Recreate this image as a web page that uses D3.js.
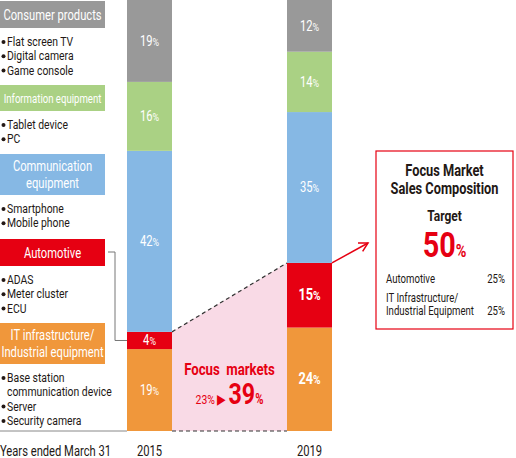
<!DOCTYPE html>
<html>
<head>
<meta charset="utf-8">
<script src="https://cdn.jsdelivr.net/npm/d3@7"></script>
<style>
  body { margin: 0; background: #fff; }
  svg { display: block; }
  text { font-family: Roboto, "Noto Sans", sans-serif; }
</style>
</head>
<body>
<div id="chart"></div>
<script>
// data (stacked bottom -> top)
const segments = ["IT infrastructure/Industrial equipment", "Automotive", "Communication equipment", "Information equipment", "Consumer products"];
const years = ["2015", "2019"];
const values2015 = [19, 4, 42, 16, 19];
const values2019 = [24, 15, 35, 14, 12];
const focusShare = [23, 39];
const targetShare = 50;
const targetItems = ["Automotive", "IT Infrastructure/Industrial Equipment"];
const targetValues = [25, 25];
const bulletItems = [
  ["Base station", " communication device", "Server", "Security camera"],
  ["ADAS", "Meter cluster", "ECU"],
  ["Smartphone", "Mobile phone"],
  ["Tablet device", "PC"],
  ["Flat screen TV", "Digital camera", "Game console"]
];
const colors = ["#f0973b", "#e60012", "#86b8e4", "#aad184", "#999999"];

// squeeze a text horizontally (no condensed font installed)
const squeeze = (t, k)=>{
  const x = +t.attr("x") || 0, y = +t.attr("y") || 0;
  t.attr("x", 0).attr("y", 0).attr("transform", `translate(${x},${y}) scale(${k},1)`);
}

const showChart = ()=>{
  const width = 516, height = 458;
  const svg = d3.select("#chart").append("svg")
      .attr("width", width).attr("height", height);

  const rows = years.map((yr, i)=>{
    const r = {year: yr};
    segments.forEach((s, j)=>{ r[s] = (i === 0 ? values2015 : values2019)[j]; });
    return r;
  });
  const stacked = d3.stack().keys(segments)(rows);

  const x = d3.scaleBand().domain(years).range([127, 332]).paddingInner(0.71875);
  const y = d3.scaleLinear().domain([0, 100]).range([431, 0]);
  const color = d3.scaleOrdinal().domain(segments).range(colors);
  const bw = x.bandwidth();

  // focus market pink area + dashed edges
  const autoTop = stacked[1];
  const xL = x("2015") + bw, xR = x("2019");
  const yL = y(autoTop[0][1]), yR = y(autoTop[1][1]);
  svg.append("path")
      .attr("d", `M${xL},${yL}L${xR},${yR}L${xR},${y(0)}L${xL},${y(0)}Z`)
      .attr("fill", "#f9dae6");
  svg.append("path")
      .attr("d", `M${xL},${yL}L${xR},${yR}M${xL},${y(0)}L${xR},${y(0)}`)
      .attr("fill", "none").attr("stroke", "#333").attr("stroke-width", 1.2)
      .attr("stroke-dasharray", "4,3");

  // baseline on the left
  svg.append("line").attr("x1", 0).attr("x2", x("2015")).attr("y1", y(0)).attr("y2", y(0))
      .attr("stroke", "#888").attr("stroke-width", 1);

  // bars
  const layer = svg.append("g").selectAll("g").data(stacked).join("g")
      .attr("fill", d=>color(d.key));
  layer.selectAll("rect").data(d=>d.map(v=>Object.assign(v, {key: d.key}))).join("rect")
      .attr("x", d=>x(d.data.year))
      .attr("y", d=>y(d[1]))
      .attr("width", bw)
      .attr("height", d=>y(d[0]) - y(d[1]));

  // value labels
  const isBold = d=>d.data.year === "2019" && (d.key === segments[0] || d.key === segments[1]);
  layer.selectAll("text").data(d=>d).join("text")
      .attr("x", d=>x(d.data.year) + bw / 2)
      .attr("y", d=>(y(d[0]) + y(d[1])) / 2 + 5)
      .attr("text-anchor", "middle")
      .attr("fill", "#fff")
      .attr("font-size", d=>isBold(d) ? 16 : 14)
      .attr("font-weight", d=>isBold(d) ? "bold" : "normal")
      .each(function(d){
        const t = d3.select(this);
        t.append("tspan").text(d[1] - d[0]);
        t.append("tspan").attr("font-size", "0.8em").text("%");
      });

  // left legend: boxes + bullets
  const legendBoxes = [
    {y: 323, h: 41, lines: ["IT infrastructure/", "Industrial equipment"]},
    {y: 239, h: 27, lines: ["Automotive"]},
    {y: 154, h: 41, lines: ["Communication", "equipment"]},
    {y: 85, h: 26, lines: ["Information equipment"]},
    {y: 1, h: 27, lines: ["Consumer products"]}
  ];
  const lg = svg.append("g");
  legendBoxes.forEach((b, i)=>{
    lg.append("rect").attr("x", 0).attr("y", b.y).attr("width", 105).attr("height", b.h)
        .attr("fill", colors[i]);
    const fs = i === 3 ? 12 : 14;
    b.lines.forEach((ln, k)=>{
      lg.append("text").attr("x", 52.5)
          .attr("y", b.y + b.h / 2 + 5 + (k - (b.lines.length - 1) / 2) * 17)
          .attr("text-anchor", "middle").attr("fill", "#fff").attr("font-size", fs)
          .text(ln);
    });
    bulletItems[i].forEach((it, k)=>{
      const yy = b.y + b.h + 18 + k * 14.3;
      if (!it.startsWith(" ")) {
        lg.append("circle").attr("cx", 3.5).attr("cy", yy - 4).attr("r", 2).attr("fill", "#231815");
      }
      lg.append("text").attr("x", 7).attr("y", yy)
          .attr("font-size", 13).attr("fill", "#231815").text(it.trim());
    });
  });

  // connector from Automotive legend to 2015 bar
  svg.append("path")
      .attr("d", `M108,252H115V${(y(autoTop[0][0]) + y(autoTop[0][1])) / 2}H${x("2015")}`)
      .attr("fill", "none").attr("stroke", "#777").attr("stroke-width", 1);

  // axis labels
  svg.append("text").attr("x", 0).attr("y", 456).attr("font-size", 14).attr("fill", "#231815")
      .text("Years ended March 31");
  svg.append("g").selectAll("text").data(years).join("text")
      .attr("x", d=>x(d) + bw / 2).attr("y", 456)
      .attr("text-anchor", "middle").attr("font-size", 14).attr("fill", "#231815")
      .text(d=>d);

  // focus markets annotation
  const fx = (xL + xR) / 2;
  svg.append("text").attr("x", fx).attr("y", 375).attr("text-anchor", "middle")
      .attr("font-size", 16.5).attr("font-weight", "bold").attr("fill", "#e60012")
      .attr("word-spacing", 4)
      .text("Focus markets");
  const ft = svg.append("text").attr("x", fx).attr("y", 404).attr("text-anchor", "middle")
      .attr("fill", "#e60012");
  ft.append("tspan").attr("font-size", 13).text(focusShare[0] + "%");
  ft.append("tspan").attr("font-size", 14).attr("dx", 3).text("\u25B6");
  ft.append("tspan").attr("font-size", 29).attr("font-weight", "bold").attr("dx", 3).text(focusShare[1]);
  ft.append("tspan").attr("font-size", 14).attr("font-weight", "bold").text("%");

  // arrow to target box
  const ax0 = x("2019") + bw, ay0 = yR, ax1 = 368, ay1 = 243;
  svg.append("line").attr("x1", ax0).attr("y1", ay0).attr("x2", ax1).attr("y2", ay1)
      .attr("stroke", "#e60012").attr("stroke-width", 1.5);
  const ang = Math.atan2(ay1 - ay0, ax1 - ax0);
  const ah = 10, spread = 0.5;
  svg.append("path")
      .attr("d", `M${ax1 - ah * Math.cos(ang - spread)},${ay1 - ah * Math.sin(ang - spread)}L${ax1},${ay1}L${ax1 - ah * Math.cos(ang + spread)},${ay1 - ah * Math.sin(ang + spread)}`)
      .attr("fill", "none").attr("stroke", "#e60012").attr("stroke-width", 1.5);

  // target box
  const bx = 376, by = 151, bwid = 137, bh = 178, cx = bx + bwid / 2;
  svg.append("rect").attr("x", bx).attr("y", by).attr("width", bwid).attr("height", bh)
      .attr("fill", "#fff").attr("stroke", "#e60012").attr("stroke-width", 1.2);
  ["Focus Market", "Sales Composition"].forEach((t, i)=>{
    svg.append("text").attr("x", cx).attr("y", 176 + i * 18).attr("text-anchor", "middle")
        .attr("font-size", 16).attr("font-weight", "bold").attr("fill", "#231815").text(t);
  });
  svg.append("text").attr("x", cx).attr("y", 221).attr("text-anchor", "middle")
      .attr("font-size", 15).attr("font-weight", "bold").attr("fill", "#231815").text("Target");
  const tt = svg.append("text").attr("x", cx).attr("y", 257).attr("text-anchor", "middle")
      .attr("fill", "#e60012").attr("font-weight", "bold");
  tt.append("tspan").attr("font-size", 36).text(targetShare);
  tt.append("tspan").attr("font-size", 18).text("%");

  const itemLines = [["Automotive"], ["IT Infrastructure/", "Industrial Equipment"]];
  const itemY = [283, 315];
  itemLines.forEach((lines, i)=>{
    lines.forEach((ln, k)=>{
      svg.append("text").attr("x", 386).attr("y", itemY[i] - (lines.length - 1 - k) * 13)
          .attr("font-size", 12).attr("fill", "#231815").text(ln);
    });
    svg.append("text").attr("x", 505).attr("y", itemY[i]).attr("text-anchor", "end")
        .attr("font-size", 12).attr("fill", "#231815").text(targetValues[i] + "%");
  });

  svg.selectAll("text").each(function(){ squeeze(d3.select(this), 0.8); });
}

showChart()
</script>
</body>
</html>
